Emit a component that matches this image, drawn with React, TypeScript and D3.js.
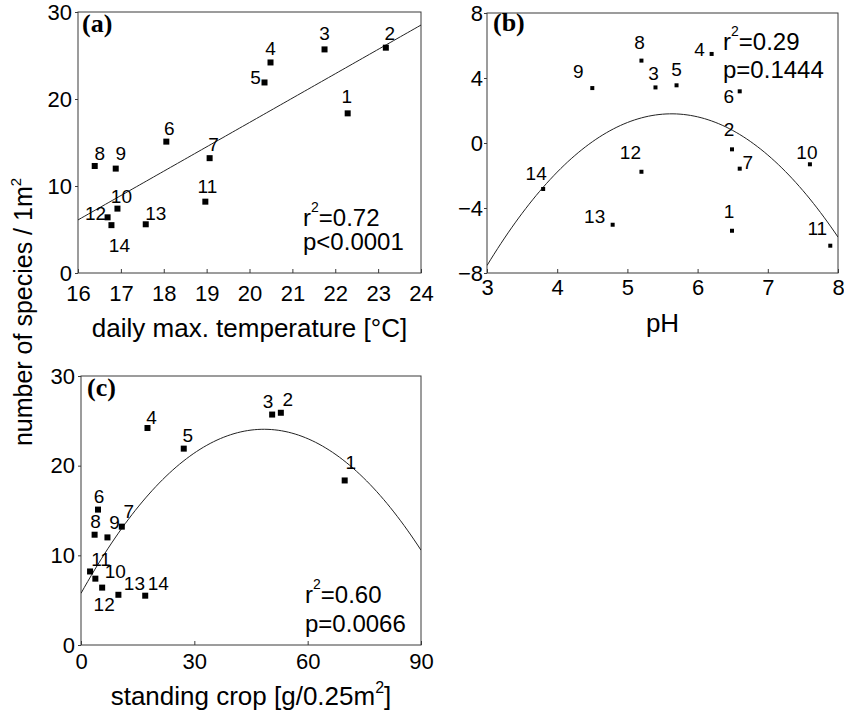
import * as d3 from 'd3';
import { useEffect, useRef } from 'react';

const siteIds = [1, 2, 3, 4, 5, 6, 7, 8, 9, 10, 11, 12, 13, 14];
const speciesCount = [18.35, 25.9, 25.7, 24.2, 21.9, 15.1, 13.2, 12.3, 12.0, 7.4, 8.2, 6.4, 5.6, 5.5];
const maxTemp = [22.29, 23.18, 21.75, 20.49, 20.35, 18.06, 19.07, 16.39, 16.88, 16.92, 18.97, 16.69, 17.58, 16.78];
const phValues = [6.49, 6.49, 5.4, 6.2, 5.7, 6.6, 6.6, 5.2, 4.5, 7.6, 7.89, 5.2, 4.79, 3.8];
const phResidual = [-5.4, -0.39, 3.42, 5.48, 3.55, 3.18, -1.58, 5.07, 3.38, -1.31, -6.32, -1.77, -5.03, -2.83];
const standingCrop = [69.8, 52.9, 50.6, 17.6, 27.2, 4.5, 10.8, 3.6, 7.0, 3.8, 2.4, 5.6, 9.9, 17.0];

// polynomial fit coefficients: c0 + c1*x + c2*x^2
const tempFit = [-38.7, 2.8];
const phFit = [-40.99, 15.2, -1.35];
const cropFit = [5.76, 0.7557, -0.007802];

const tempTicks = [16, 17, 18, 19, 20, 21, 22, 23, 24];
const phTicks = [3, 4, 5, 6, 7, 8];
const cropTicks = [0, 30, 60, 90];
const speciesTicks = [0, 10, 20, 30];
const residualTicks = [-8, -4, 0, 4, 8];

const statsA = ['0.72', 'p<0.0001'];
const statsB = ['0.29', 'p=0.1444'];
const statsC = ['0.60', 'p=0.0066'];

// label placement (label centre relative to the point, px)
const labelOffsetsA = [[-1, -17], [4, -14], [0, -16], [0, -14], [-9, -5], [3, -13], [4, -14], [5, -13], [5, -15], [4, -12], [2, -15], [-12, -4], [10, -11], [8, 20]];
const labelOffsetsB = [[-3, -19], [-3, -20], [-2, -14], [-12, -5], [0, -16], [-11, 5], [8, -6], [-2, -18], [-14, -17], [-3, -12], [-13, -17], [-11, -19], [-18, -8], [-7, -16]];
const labelOffsetsC = [[6, -18], [7, -13], [-4, -13], [4, -11], [4, -13], [1, -13], [7, -15], [1, -13], [7, -15], [20, -7], [11, -12], [2, 17], [16, -11], [13, -12]];

const SANS = '"Liberation Sans", Arial, Helvetica, sans-serif';
const SERIF = '"Liberation Serif", "Times New Roman", serif';

const poly = (coef, v) => coef.reduce((sum, c, i) => sum + c * Math.pow(v, i), 0);

function drawPanel(root, spec) {
  const { box } = spec;
  const x = d3.scaleLinear().domain(spec.xDomain).range([box.left, box.right]);
  const y = d3.scaleLinear().domain(spec.yDomain).range([box.bottom, box.top]);
  const g = root.append('g');

  const clipId = `clip-${spec.key}`;
  g.append('clipPath')
    .attr('id', clipId)
    .append('rect')
    .attr('x', box.left)
    .attr('y', box.top)
    .attr('width', box.right - box.left)
    .attr('height', box.bottom - box.top);

  g.append('rect')
    .attr('x', box.left)
    .attr('y', box.top)
    .attr('width', box.right - box.left)
    .attr('height', box.bottom - box.top)
    .attr('fill', 'none')
    .attr('stroke', '#3a3a3a')
    .attr('stroke-width', 1);

  const xAxis = g.append('g')
    .attr('transform', `translate(0,${box.bottom})`)
    .call(d3.axisBottom(x).tickValues(spec.xTicks).tickSize(-4).tickSizeOuter(0).tickPadding(spec.xPad).tickFormat(d3.format('d')));
  const yAxis = g.append('g')
    .attr('transform', `translate(${box.left},0)`)
    .call(d3.axisLeft(y).tickValues(spec.yTicks).tickSize(3).tickSizeOuter(0).tickPadding(spec.yPad).tickFormat(d3.format('d')));

  [xAxis, yAxis].forEach((axis) => {
    axis.select('.domain').remove();
    axis.attr('font-size', null).attr('font-family', null);
    axis.selectAll('line').attr('stroke', '#3a3a3a');
    axis.selectAll('text')
      .style('font-family', SANS)
      .style('font-size', '22px')
      .attr('fill', '#000');
  });

  const [x0, x1] = spec.xDomain;
  const samples = d3.range(0, 101).map((i) => x0 + ((x1 - x0) * i) / 100);
  g.append('path')
    .attr('clip-path', `url(#${clipId})`)
    .attr('d', d3.line().x((v) => x(v)).y((v) => y(poly(spec.fit, v)))(samples))
    .attr('fill', 'none')
    .attr('stroke', '#222')
    .attr('stroke-width', 1);

  const s = spec.markSize;
  g.append('g')
    .selectAll('rect')
    .data(spec.xs)
    .join('rect')
    .attr('x', (v) => x(v) - s / 2)
    .attr('y', (_v, i) => y(spec.ys[i]) - s / 2)
    .attr('width', s)
    .attr('height', s)
    .attr('fill', '#000');

  g.append('g')
    .selectAll('text')
    .data(siteIds)
    .join('text')
    .attr('x', (_id, i) => x(spec.xs[i]) + spec.labels[i][0])
    .attr('y', (_id, i) => y(spec.ys[i]) + spec.labels[i][1])
    .attr('dy', '0.35em')
    .attr('text-anchor', 'middle')
    .style('font-family', SANS)
    .style('font-size', '19px')
    .attr('fill', '#000')
    .text((id) => id);

  g.append('text')
    .attr('x', spec.tag.x)
    .attr('y', spec.tag.y)
    .style('font-family', SERIF)
    .style('font-weight', 'bold')
    .style('font-size', '26px')
    .text(`(${spec.key})`);

  const st = spec.stats;
  const stat = g.append('g').style('font-family', SANS).style('font-size', '24px');
  const r2 = stat.append('text').attr('x', st.x).attr('y', st.y1);
  r2.append('tspan').text('r');
  r2.append('tspan').attr('dy', -14).style('font-size', '14px').text('2');
  r2.append('tspan').attr('dy', 14).text(`=${spec.statText[0]}`);
  stat.append('text').attr('x', st.x).attr('y', st.y2).text(spec.statText[1]);

  const title = g.append('text')
    .attr('x', (box.left + box.right) / 2)
    .attr('y', spec.titleY)
    .attr('text-anchor', 'middle')
    .style('font-family', SANS)
    .style('font-size', '26px');
  spec.title.forEach((part) => {
    const t = title.append('tspan').text(part.text);
    if (part.sup) t.attr('dy', -12).style('font-size', '16px');
    if (part.after) t.attr('dy', 12);
  });
}

export default function App() {
  const ref = useRef(null);

  useEffect(() => {
    document.body.style.margin = '0';
    const svg = d3.select(ref.current);
    svg.selectAll('*').remove();

    const panels = [
      {
        key: 'a', xs: maxTemp, ys: speciesCount, fit: tempFit,
        xDomain: [16, 24], yDomain: [0, 30], xTicks: tempTicks, yTicks: speciesTicks,
        box: { left: 78, right: 421, top: 12, bottom: 273 },
        xPad: 12, yPad: 3, markSize: 6, labels: labelOffsetsA,
        tag: { x: 82, y: 32 },
        stats: { x: 303, y1: 226, y2: 250 }, statText: statsA,
        title: [{ text: 'daily max. temperature [°C]' }], titleY: 337,
      },
      {
        key: 'b', xs: phValues, ys: phResidual, fit: phFit,
        xDomain: [3, 8], yDomain: [-8, 8], xTicks: phTicks, yTicks: residualTicks,
        box: { left: 487, right: 838, top: 13, bottom: 273 },
        xPad: 6, yPad: 1, markSize: 4, labels: labelOffsetsB,
        tag: { x: 493, y: 31 },
        stats: { x: 723, y1: 50, y2: 78 }, statText: statsB,
        title: [{ text: 'pH' }], titleY: 332,
      },
      {
        key: 'c', xs: standingCrop, ys: speciesCount, fit: cropFit,
        xDomain: [0, 90], yDomain: [0, 30], xTicks: cropTicks, yTicks: speciesTicks,
        box: { left: 81, right: 421, top: 376, bottom: 645 },
        xPad: 8, yPad: 3, markSize: 6, labels: labelOffsetsC,
        tag: { x: 87, y: 396 },
        stats: { x: 305, y1: 603, y2: 632 }, statText: statsC,
        title: [{ text: 'standing crop [g/0.25m' }, { text: '2', sup: true }, { text: ']', after: true }], titleY: 705,
      },
    ];

    panels.forEach((spec) => drawPanel(svg, spec));

    const yTitle = svg.append('text')
      .attr('transform', 'translate(32,312) rotate(-90)')
      .attr('text-anchor', 'middle')
      .style('font-family', SANS)
      .style('font-size', '25px');
    yTitle.append('tspan').text('number of species / 1m');
    yTitle.append('tspan').attr('dy', -11).style('font-size', '15px').text('2');

    return () => {
      svg.selectAll('*').remove();
    };
  }, []);

  return (
    <svg ref={ref} width={844} height={715} viewBox="0 0 844 715" style={{ display: 'block', background: '#fff' }} />
  );
}
